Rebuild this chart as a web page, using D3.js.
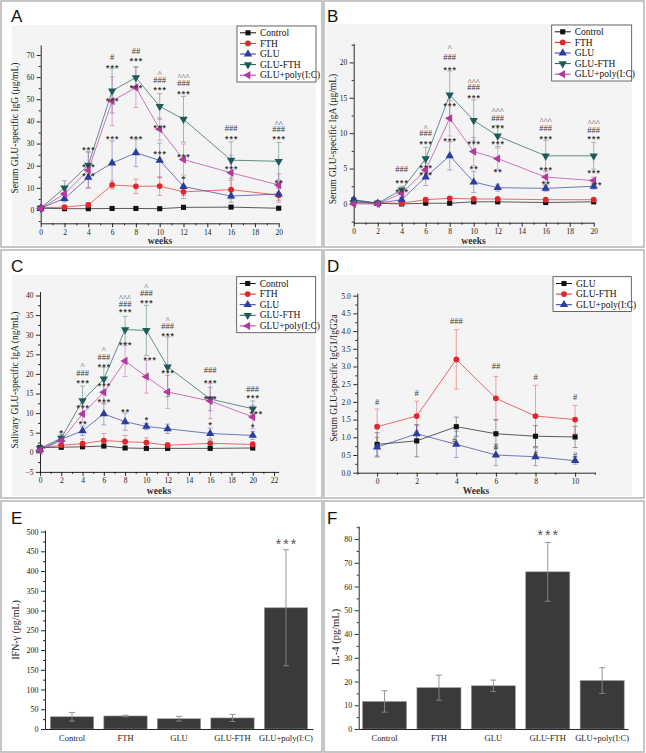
<!DOCTYPE html>
<html><head><meta charset="utf-8">
<script src="https://cdn.jsdelivr.net/npm/d3@7"></script>
<style>body{margin:0;background:#fff}svg{display:block}</style>
</head><body>
<svg id="c" width="646" height="753"></svg>
<script>
// ---------------- DATA ----------------
const groups = ["Control","FTH","GLU","GLU-FTH","GLU+poly(I:C)"];
const weeksAB = [0,2,4,6,8,10,12,16,20];
const weeksD = [0,2,4,6,8,10];

// Panel A: Serum IgG (ug/mL)
const aControl    = [0.8,0.6,0.6,0.7,0.7,0.6,1.2,1.3,0.8];
const aControlErr = [0.3,0.2,0.2,0.3,0.3,0.3,0.4,0.5,0.3];
const aFTH        = [1.0,1.3,2.3,11.3,10.7,10.8,8.2,9.2,6.7];
const aFTHErr     = [0.4,0.6,0.8,1.8,3.2,4.2,3.0,4.2,3.2];
const aGLU        = [0.8,5.2,14.7,21.2,25.8,22.4,10.6,6.3,7.2];
const aGLUErr     = [0.4,1.5,4.8,10.0,6.2,7.8,4.0,2.8,2.8];
const aGLUFTH     = [0.8,10.0,20.3,53.8,59.8,46.8,41.0,22.5,22.0];
const aGLUFTHErr  = [0.5,3.2,6.2,10.0,5.0,5.8,10.3,8.3,8.5];
const aPoly       = [0.7,7.3,18.0,49.2,55.3,36.5,22.8,16.8,11.3];
const aPolyErr    = [0.4,2.8,8.0,11.0,9.0,5.0,7.0,8.0,5.0];
const annA = [
 [4,28,"***"],[4,20,"***"],[4,16.3,"***"],
 [6,69.1,"#"],[6,65,"***"],[6,50.1,"***"],[6,33,"***"],
 [8,71.8,"##"],[8,67.8,"***"],[8,56,"***"],[8,33,"***"],
 [10,62.3,"^"],[10,58.7,"###"],[10,54.7,"***"],[10,37.9,"***"],[10,26.2,"***"],
 [12,61,"^^^"],[12,57.4,"###"],[12,53.3,"***"],[12,24.8,"***"],[12,14.9,"*"],
 [16,37,"###"],[16,33,"***"],[16,19.4,"***"],
 [20,39.7,"^^"],[20,36.6,"###"],[20,33,"***"],[20,13.1,"**"]
];

// Panel B: Serum IgA (ug/mL)
const bControl    = [0.5,0.1,0.0,0.1,0.1,0.3,0.3,0.2,0.3];
const bControlErr = [0.3,0.1,0.1,0.1,0.1,0.1,0.1,0.1,0.1];
const bFTH        = [0.2,0.1,0.1,0.6,0.8,0.7,0.7,0.6,0.6];
const bFTHErr     = [0.2,0.1,0.1,0.2,0.2,0.2,0.2,0.2,0.2];
const bGLU        = [0.6,0.1,0.6,3.8,6.8,3.1,2.3,2.2,2.5];
const bGLUErr     = [0.3,0.2,0.3,1.2,2.0,1.5,0.5,0.4,0.4];
const bGLUFTH     = [0.2,0.1,2.0,6.4,15.4,11.8,9.6,6.8,6.8];
const bGLUFTHErr  = [0.2,0.2,0.5,1.6,3.4,2.9,1.5,2.2,1.9];
const bPoly       = [0.0,0.0,1.5,4.8,12.1,7.4,6.4,3.8,3.3];
const bPolyErr    = [0.1,0.2,0.5,1.0,2.5,2.0,1.5,1.0,0.5];
const annB = [
 [4,5.0,"###"],[4,3.15,"***"],[4,1.9,"***"],
 [6,11.0,"^"],[6,10.0,"###"],[6,8.7,"***"],[6,5.3,"***"],[6,4.3,"***"],
 [8,22.2,"^"],[8,20.8,"###"],[8,19.2,"***"],[8,14.1,"***"],[8,9.1,"***"],
 [10,17.5,"^^^"],[10,16.5,"###"],[10,15.2,"***"],[10,8.7,"***"],[10,5.1,"**"],
 [12,13.4,"^^^"],[12,12.2,"###"],[12,10.9,"***"],[12,8.7,"***"],[12,4.7,"**"],
 [16,12.0,"^^^"],[16,10.8,"###"],[16,9.4,"***"],[16,5.0,"***"],[16,3.1,"**"],
 [20,11.6,"^^^"],[20,10.4,"###"],[20,9.4,"***"],[20,4.6,"***"],[20.3,2.9,"**"]
];

// Panel C: Salivary IgA (ng/mL)
const cControl    = [1.2,1.3,1.4,1.6,1.1,1.0,1.0,1.0,1.1];
const cControlErr = [0.6,0.5,0.4,0.4,0.3,0.3,0.5,0.3,0.4];
const cFTH        = [1.0,1.8,2.2,3.0,2.7,2.5,1.8,2.3,2.0];
const cFTHErr     = [0.5,1.0,1.2,1.8,1.6,1.2,0.6,0.8,0.7];
const cGLU        = [0.7,3.3,5.5,9.8,7.8,6.6,6.0,4.8,4.3];
const cGLUErr     = [0.4,1.2,1.2,2.8,2.2,0.8,1.2,1.4,1.0];
const cGLUFTH     = [1.0,3.6,13.2,18.7,31.3,31.1,21.8,13.6,11.1];
const cGLUFTHErr  = [0.6,1.5,3.7,3.0,3.4,6.4,7.6,3.0,2.0];
const cPoly       = [0.5,3.0,9.8,15.3,23.3,19.3,15.4,13.1,9.0];
const cPolyErr    = [0.4,1.0,2.0,3.0,4.0,4.2,4.2,4.5,3.0];
const annC = [
 [2,5.3,"*"],
 [4,22.3,"^"],[4,20.2,"###"],[4,18.0,"***"],[4,11.7,"***"],[4,7.6,"**"],
 [6,26.6,"^"],[6,24.4,"###"],[6,22.1,"***"],[6,17.4,"***"],[6,13.2,"***"],
 [8,39.7,"^^^"],[8,37.9,"###"],[8,36.2,"***"],[8,27.8,"***"],[8,10.8,"**"],
 [10,42.7,"^"],[10,40.6,"###"],[10,38.5,"***"],[10.3,24.0,"***"],[10,8.7,"*"],
 [12,34.2,"^"],[12,32.1,"###"],[12,30.2,"***"],[12,20.6,"***"],
 [16,21.0,"###"],[16,18.0,"***"],[16,14.0,"***"],[16,7.4,"*"],
 [20,16.1,"###"],[20,14.2,"***"],[20.3,10.1,"***"],[20,6.8,"*"]
];

// Panel D: IgG1/IgG2a ratio
const dGLU       = [0.8,0.9,1.3,1.1,1.03,1.01];
const dGLUErr    = [0.33,0.45,0.27,0.4,0.3,0.3];
const dGLUFTH    = [1.3,1.6,3.2,2.1,1.6,1.5];
const dGLUFTHErr = [0.5,0.42,0.84,0.62,0.87,0.4];
const dPoly      = [0.72,1.1,0.8,0.5,0.45,0.34];
const dPolyErr   = [0.28,0.25,0.37,0.3,0.25,0.1];
const annD = [[0,1.99,"#"],[2,2.24,"#"],[4,4.29,"###"],[6,3.0,"##"],[8,2.71,"#"],[10,2.15,"#"],
              [3.9,0.92,"#"],[6,0.73,"#"],[8,0.56,"#"],[10,0.5,"#"]];

// Panel E: IFN-gamma (pg/mL)
const eValues = [31,33,26,28,307];
const eErr    = [11,2,6,9,147];
// Panel F: IL-4 (pg/mL)
const fValues = [11.6,17.4,18.2,66.2,20.4];
const fErr    = [4.5,5.3,2.4,12.4,5.4];

// ---------------- DRAWING ----------------
const svg = d3.select("#c");
const SERIF = "'Liberation Serif','Times New Roman',serif";
const SANS = "'Liberation Sans',Arial,sans-serif";

svg.append("rect").attr("width",646).attr("height",753).attr("fill","#fff");
// panel frames
[[1,1,321,246],[324,1,320,246],[1,250,321,248],[324,250,320,248],[1,501,321,251],[324,501,320,251]]
 .forEach(r=>svg.append("rect").attr("x",r[0]).attr("y",r[1]).attr("width",r[2]).attr("height",r[3])
   .attr("fill","none").attr("stroke","#b8b8b8").attr("stroke-width",1.6));

const sym = (type, rot) => ({type, rot});
const mainStyles = {
  "Control":       {color:"#111111", s:sym(d3.symbolSquare,0), size:26},
  "FTH":           {color:"#e3262b", s:sym(d3.symbolCircle,0), size:26},
  "GLU":           {color:"#2b3d9e", s:sym(d3.symbolTriangle,0), size:30},
  "GLU-FTH":       {color:"#1c5b56", s:sym(d3.symbolTriangle,180), size:30},
  "GLU+poly(I:C)": {color:"#b3399f", s:sym(d3.symbolTriangle,-90), size:30}
};
const dStyles = {
  "GLU":           {color:"#111111", s:sym(d3.symbolSquare,0), size:26},
  "GLU-FTH":       {color:"#e3262b", s:sym(d3.symbolCircle,0), size:26},
  "GLU+poly(I:C)": {color:"#2b3d9e", s:sym(d3.symbolTriangle,0), size:30}
};

function marker(g, st, cx, cy){
  g.append("path").attr("d", d3.symbol().type(st.s.type).size(st.size)())
   .attr("transform",`translate(${cx},${cy}) rotate(${st.s.rot})`)
   .attr("fill", st.color);
}

function letter(t, x, y){
  svg.append("text").attr("x",x).attr("y",y).text(t)
   .attr("font-family",SANS).attr("font-size",17).attr("fill","#111");
}

function ytitle(t, x, y, fs){
  svg.append("text").attr("transform",`translate(${x},${y}) rotate(-90)`)
   .attr("text-anchor","middle").attr("dy","0.35em").text(t)
   .attr("font-family",SERIF).attr("font-size",fs||9.5).attr("fill","#222");
}
function xtitle(t, x, y){
  svg.append("text").attr("x",x).attr("y",y).attr("text-anchor","middle").attr("dy","0.35em").text(t)
   .attr("font-family",SERIF).attr("font-size",9.5).attr("font-weight","bold").attr("fill","#333");
}

function styleAxis(a){
  a.selectAll("path,line").attr("stroke","#111").attr("stroke-width",0.9);
  a.selectAll("text").attr("font-family",SERIF).attr("font-size",7.5).attr("fill","#222");
}

function axes(g, x, y, p){
  const xA = g.append("g").attr("transform",`translate(0,${p.yRange[0]})`)
    .call(d3.axisBottom(x).tickValues(p.xMajor).tickSize(4).tickSizeOuter(0).tickPadding(2).tickFormat(d3.format("d")));
  styleAxis(xA);
  const xm = g.append("g").attr("transform",`translate(0,${p.yRange[0]})`)
    .call(d3.axisBottom(x).tickValues(p.xMinor).tickSize(2).tickFormat(""));
  xm.select(".domain").remove(); styleAxis(xm);
  const yA = g.append("g").attr("transform",`translate(${p.xRange[0]},0)`)
    .call(d3.axisLeft(y).tickValues(p.yMajor).tickSize(4).tickSizeOuter(0).tickPadding(2.5).tickFormat(p.yFmt));
  styleAxis(yA);
  const ym = g.append("g").attr("transform",`translate(${p.xRange[0]},0)`)
    .call(d3.axisLeft(y).tickValues(p.yMinor).tickSize(2).tickFormat(""));
  ym.select(".domain").remove(); styleAxis(ym);
}

function annOffset(t){
  if (t[0]==="*") return 4.6;
  if (t[0]==="^") return 4.6;
  return 3.0;
}

function legend(x0, y0, w, names, styles){
  const g = svg.append("g");
  const h = names.length*10.6 + 3;
  g.append("rect").attr("x",x0).attr("y",y0).attr("width",w).attr("height",h)
   .attr("fill","#fff").attr("stroke","#444").attr("stroke-width",0.8);
  names.forEach((n,i)=>{
    const yy = y0 + 6.8 + i*10.6;
    const st = styles[n];
    g.append("line").attr("x1",x0+3).attr("x2",x0+19).attr("y1",yy).attr("y2",yy)
     .attr("stroke",st.color).attr("stroke-width",1);
    marker(g, st, x0+11, yy);
    g.append("text").attr("x",x0+23).attr("y",yy).attr("dy","0.33em").text(n)
     .attr("font-family",SERIF).attr("font-size",9.5).attr("fill","#111");
  });
}

function linePanel(p){
  svg.append("rect").attr("x",p.bg[0]).attr("y",p.bg[1]).attr("width",p.bg[2]-p.bg[0]).attr("height",p.bg[3]-p.bg[1])
    .attr("fill","#f4f4f4");
  const g = svg.append("g");
  const x = d3.scaleLinear().domain(p.xDomain).range(p.xRange);
  const y = d3.scaleLinear().domain(p.yDomain).range(p.yRange);
  axes(g, x, y, p);
  const line = d3.line().x(d=>x(d[0])).y(d=>y(d[1]));
  p.series.forEach(s=>{
    const st = p.styles[s.name];
    const pts = p.weeks.map((w,i)=>[w, s.v[i], s.e[i]]);
    const eg = g.append("g").attr("stroke",st.color).attr("stroke-width",0.8).attr("opacity",0.5);
    pts.forEach(d=>{
      const cx = x(d[0]), t = y(d[1]+d[2]), b = y(d[1]-d[2]);
      eg.append("line").attr("x1",cx).attr("x2",cx).attr("y1",t).attr("y2",b);
      eg.append("line").attr("x1",cx-2.5).attr("x2",cx+2.5).attr("y1",t).attr("y2",t);
      eg.append("line").attr("x1",cx-2.5).attr("x2",cx+2.5).attr("y1",b).attr("y2",b);
    });
    g.append("path").attr("d",line(pts)).attr("fill","none").attr("stroke",st.color)
     .attr("stroke-width",0.85).attr("opacity",0.8);
  });
  p.series.forEach(s=>{
    const st = p.styles[s.name];
    p.weeks.forEach((w,i)=>marker(g, st, x(w), y(s.v[i])));
  });
  p.ann.forEach(a=>{
    const star = a[2][0]==="*";
    g.append("text").attr("x",x(a[0]) + (star?0.6:0)).attr("y",y(a[1])+annOffset(a[2])).attr("text-anchor","middle")
     .text(a[2]).attr("font-family", star?SANS:SERIF)
     .attr("font-size", star?8.5:8.5).attr("letter-spacing", star?"1.2px":"0px")
     .attr("font-weight", star?"bold":"normal")
     .attr("fill","#3a3a3a");
  });
  legend(p.legend[0], p.legend[1], p.legend[2], p.series.map(s=>s.name), p.styles);
  letter(p.letter, p.letterPos[0], p.letterPos[1]);
  ytitle(p.ytitle, p.ytitlePos[0], p.ytitlePos[1]);
  xtitle(p.xtitle, p.xtitlePos[0], p.xtitlePos[1]);
}

const rng = (a,b,s) => d3.range(a, b+s/2, s);

linePanel({
  bg:[12,25,316,245], weeks:weeksAB,
  xDomain:[0,20], xRange:[40.7,278.7], yDomain:[-6,74.5], yRange:[223.3,45],
  xMajor:rng(0,20,2), xMinor:rng(1,19,2), yMajor:rng(0,70,10), yMinor:rng(-5,65,10), yFmt:d3.format("d"),
  styles:mainStyles,
  series:[{name:"Control",v:aControl,e:aControlErr},{name:"FTH",v:aFTH,e:aFTHErr},{name:"GLU",v:aGLU,e:aGLUErr},
          {name:"GLU-FTH",v:aGLUFTH,e:aGLUFTHErr},{name:"GLU+poly(I:C)",v:aPoly,e:aPolyErr}],
  ann:annA, legend:[237,26,79], letter:"A", letterPos:[11,22],
  ytitle:"Serum GLU-specific IgG (μg/mL)", ytitlePos:[15,128], xtitle:"weeks", xtitlePos:[160,241]
});

linePanel({
  bg:[326,24,632,245], weeks:weeksAB,
  xDomain:[0,20], xRange:[353.7,593.7], yDomain:[-2.65,22.7], yRange:[222.7,43.3],
  xMajor:rng(0,20,2), xMinor:rng(1,19,2), yMajor:rng(0,20,5), yMinor:rng(-2.5,22.5,5), yFmt:d3.format("d"),
  styles:mainStyles,
  series:[{name:"Control",v:bControl,e:bControlErr},{name:"FTH",v:bFTH,e:bFTHErr},{name:"GLU",v:bGLU,e:bGLUErr},
          {name:"GLU-FTH",v:bGLUFTH,e:bGLUFTHErr},{name:"GLU+poly(I:C)",v:bPoly,e:bPolyErr}],
  ann:annB, legend:[551.7,25,80], letter:"B", letterPos:[327,22],
  ytitle:"Serum GLU-specific IgA (μg/mL)", ytitlePos:[333,139], xtitle:"weeks", xtitlePos:[473.5,241]
});

linePanel({
  bg:[12,275,316,496], weeks:weeksAB,
  xDomain:[0,22.44], xRange:[40,278.7], yDomain:[-5,41], yRange:[471.9,291.6],
  xMajor:rng(0,22,2), xMinor:rng(1,21,2), yMajor:rng(-5,40,5), yMinor:rng(-2.5,37.5,5), yFmt:d3.format("d"),
  styles:mainStyles,
  series:[{name:"Control",v:cControl,e:cControlErr},{name:"FTH",v:cFTH,e:cFTHErr},{name:"GLU",v:cGLU,e:cGLUErr},
          {name:"GLU-FTH",v:cGLUFTH,e:cGLUFTHErr},{name:"GLU+poly(I:C)",v:cPoly,e:cPolyErr}],
  ann:annC, legend:[236.7,276.7,79], letter:"C", letterPos:[11,272],
  ytitle:"Salivary GLU-specific IgA (ng/mL)", ytitlePos:[15,380], xtitle:"weeks", xtitlePos:[159,491]
});

linePanel({
  bg:[326,275,632,496], weeks:weeksD,
  xDomain:[-1,11], xRange:[357.3,594.9], yDomain:[0,5.07], yRange:[472.7,293.2],
  xMajor:rng(0,10,2), xMinor:rng(-1,11,2), yMajor:rng(0,5,0.5), yMinor:rng(0.25,4.75,0.5), yFmt:d3.format(".1f"),
  styles:dStyles,
  series:[{name:"GLU",v:dGLU,e:dGLUErr},{name:"GLU-FTH",v:dGLUFTH,e:dGLUFTHErr},{name:"GLU+poly(I:C)",v:dPoly,e:dPolyErr}],
  ann:annD, legend:[553,276.7,78.3], letter:"D", letterPos:[327,272],
  ytitle:"Serum GLU-specific IgG1/IgG2a", ytitlePos:[334,378], xtitle:"Weeks", xtitlePos:[476,491]
});

function barPanel(p){
  const g = svg.append("g");
  const x = d3.scaleBand().domain(groups).range(p.xRange).paddingInner(0.19).paddingOuter(p.pOuter);
  const y = d3.scaleLinear().domain(p.yDomain).range(p.yRange);
  g.selectAll("rect.bar").data(p.values).join("rect").attr("class","bar")
   .attr("x",(d,i)=>x(groups[i])).attr("width",x.bandwidth())
   .attr("y",d=>y(d)).attr("height",d=>y(0)-y(d))
   .attr("fill","#3a3a3a").attr("stroke","#9a9a9a").attr("stroke-width",0.6);
  const eg = g.append("g").attr("stroke","#8a8a8a").attr("stroke-width",0.9);
  p.values.forEach((v,i)=>{
    const cx = x(groups[i]) + x.bandwidth()/2, t = y(v+p.err[i]), b = y(v-p.err[i]);
    eg.append("line").attr("x1",cx).attr("x2",cx).attr("y1",t).attr("y2",b);
    eg.append("line").attr("x1",cx-3).attr("x2",cx+3).attr("y1",t).attr("y2",t);
    eg.append("line").attr("x1",cx-3).attr("x2",cx+3).attr("y1",b).attr("y2",b);
  });
  const xA = g.append("g").attr("transform",`translate(0,${p.yRange[0]})`)
    .call(d3.axisBottom(x).tickSize(0).tickSizeOuter(0).tickPadding(6));
  xA.selectAll("path,line").attr("stroke","#111").attr("stroke-width",0.9);
  xA.selectAll("text").attr("font-family",SERIF).attr("font-size",8.5).attr("fill","#222");
  const yA = g.append("g").attr("transform",`translate(${p.xRange[0]},0)`)
    .call(d3.axisLeft(y).tickValues(p.yMajor).tickSize(4).tickSizeOuter(0).tickPadding(2.5).tickFormat(d3.format("d")));
  styleAxis(yA);
  yA.selectAll("text").attr("font-size",8);
  const ym = g.append("g").attr("transform",`translate(${p.xRange[0]},0)`)
    .call(d3.axisLeft(y).tickValues(p.yMinor).tickSize(2).tickFormat(""));
  ym.select(".domain").remove(); styleAxis(ym);
  const si = p.star[0];
  g.append("text").attr("x",x(groups[si])+x.bandwidth()/2+1).attr("y",y(p.star[1])+7)
   .attr("text-anchor","middle").text("***").attr("font-family",SANS).attr("font-size",14)
   .attr("letter-spacing","2px").attr("fill","#555");
  letter(p.letter, p.letterPos[0], p.letterPos[1]);
  ytitle(p.ytitle, p.ytitlePos[0], p.ytitlePos[1], p.yfs);
}

barPanel({
  values:eValues, err:eErr, xRange:[45,313], pOuter:0.1, yDomain:[0,504], yRange:[729,530],
  yMajor:rng(0,500,50), yMinor:rng(25,475,50), star:[4,474],
  letter:"E", letterPos:[11,524], ytitle:"IFN-γ (pg/mL)", ytitlePos:[15,630], yfs:10
});
barPanel({
  values:fValues, err:fErr, xRange:[358.7,628], pOuter:0.07, yDomain:[0,85.5], yRange:[729,526],
  yMajor:rng(0,80,10), yMinor:rng(5,85,10), star:[3,82.4],
  letter:"F", letterPos:[327,524], ytitle:"IL-4 (pg/mL)", ytitlePos:[335,637], yfs:10.5
});
</script>
</body></html>
